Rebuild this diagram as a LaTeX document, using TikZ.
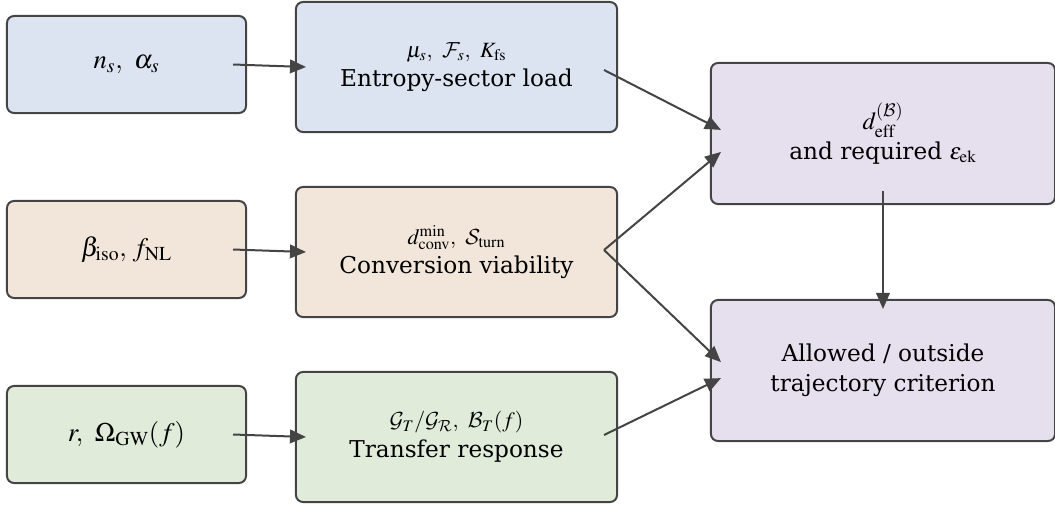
\RequirePackage{fix-cm}
\documentclass[tikz,border=0pt]{standalone}
\usepackage{amsmath,amssymb}
\usepackage{mathptmx}
\DeclareMathAlphabet{\mathcal}{OMS}{cmsy}{m}{n}
\usepackage[no-math]{fontspec}
\setmainfont{DejaVu Serif}
\usepackage{tikz}
\usetikzlibrary{arrows.meta,calc}
\definecolor{fillblue}{RGB}{219,228,240}
\definecolor{fillsand}{RGB}{242,230,218}
\definecolor{fillsage}{RGB}{224,235,218}
\definecolor{filllav}{RGB}{229,223,238}
\definecolor{edgegray}{RGB}{68,68,68}

\begin{document}
\begin{tikzpicture}[x=0.025cm,y=-0.025cm,
  box/.style={draw=edgegray, line width=0.05cm, rounded corners=5pt, align=center, inner sep=0pt},
  inbox/.style={box, minimum width=5.975cm, minimum height=2.425cm, font=\fontsize{19}{23}\selectfont},
  midbox/.style={box, minimum width=8.025cm, minimum height=3.25cm, font=\fontsize{16.5}{21}\selectfont},
  outbox/.style={box, minimum width=8.6cm, minimum height=3.525cm, font=\fontsize{16.5}{21}\selectfont},
  conn/.style={draw=edgegray, line width=0.05cm, -{Triangle[length=0.4cm,width=0.34cm]}}]
\useasboundingbox (0,0) rectangle (1055,506);
% inputs
\node (L1) at (126.5,64.5) [inbox, fill=fillblue] {$n_s,\ \alpha_s$};
\node (L2) at (126.5,249.5) [inbox, fill=fillsand] {$\beta_{\mathrm{iso}},\, f_{\mathrm{NL}}$};
\node (L3) at (126.5,434.5) [inbox, fill=fillsage] {$r,\ \Omega_{\mathrm{GW}}(f)$};
% diagnostics
\node (M1) at (456.5,67) [midbox, fill=fillblue]
  {{\fontsize{15.5}{17}\selectfont$\mu_s,\ \mathcal{F}_s,\ K_{\mathrm{fs}}$}\\Entropy-sector load};
\node (M2) at (456.5,252) [midbox, fill=fillsand]
  {{\fontsize{15.5}{17}\selectfont$d_{\mathrm{conv}}^{\min},\ \mathcal{S}_{\mathrm{turn}}$}\\Conversion viability};
\node (M3) at (456.5,437) [midbox, fill=fillsage]
  {{\fontsize{15.5}{17}\selectfont$\mathcal{G}_T/\mathcal{G}_{\mathcal{R}},\ \mathcal{B}_T(f)$}\\Transfer response};
% outcome
\node (R1) at (883,133.5) [outbox, fill=filllav]
  {{\fontsize{17.5}{19}\selectfont$d_{\mathrm{eff}}^{(\mathcal{B})}$}\\and required $\varepsilon_{\mathrm{ek}}$};
\node (R2) at (883,370.5) [outbox, fill=filllav] {Allowed / outside\\trajectory criterion};
% connectors
\draw[conn] ([xshift=-0.35cm]L1.east) -- ([xshift=0.275cm]M1.west);
\draw[conn] ([xshift=-0.35cm]L2.east) -- ([xshift=0.275cm]M2.west);
\draw[conn] ([xshift=-0.35cm]L3.east) -- ([xshift=0.275cm]M3.west);
\draw[conn] ([xshift=-0.35cm,yshift=-0.075cm]M1.east) -- ([xshift=0.275cm,yshift=0.09cm]R1.west);
\draw[conn] ([xshift=-0.35cm,yshift=0.05cm]M2.east) -- ([xshift=0.275cm,yshift=-0.46cm]R1.west);
\draw[conn] ([xshift=-0.35cm,yshift=0.05cm]M2.east) -- ([xshift=0.275cm,yshift=0.21cm]R2.west);
\draw[conn] ([xshift=-0.35cm,yshift=0.05cm]M3.east) -- ([xshift=0.275cm,yshift=-0.19cm]R2.west);
\draw[conn] ([yshift=0.35cm]R1.south) -- ([yshift=-0.25cm]R2.north);
\end{tikzpicture}
\end{document}
